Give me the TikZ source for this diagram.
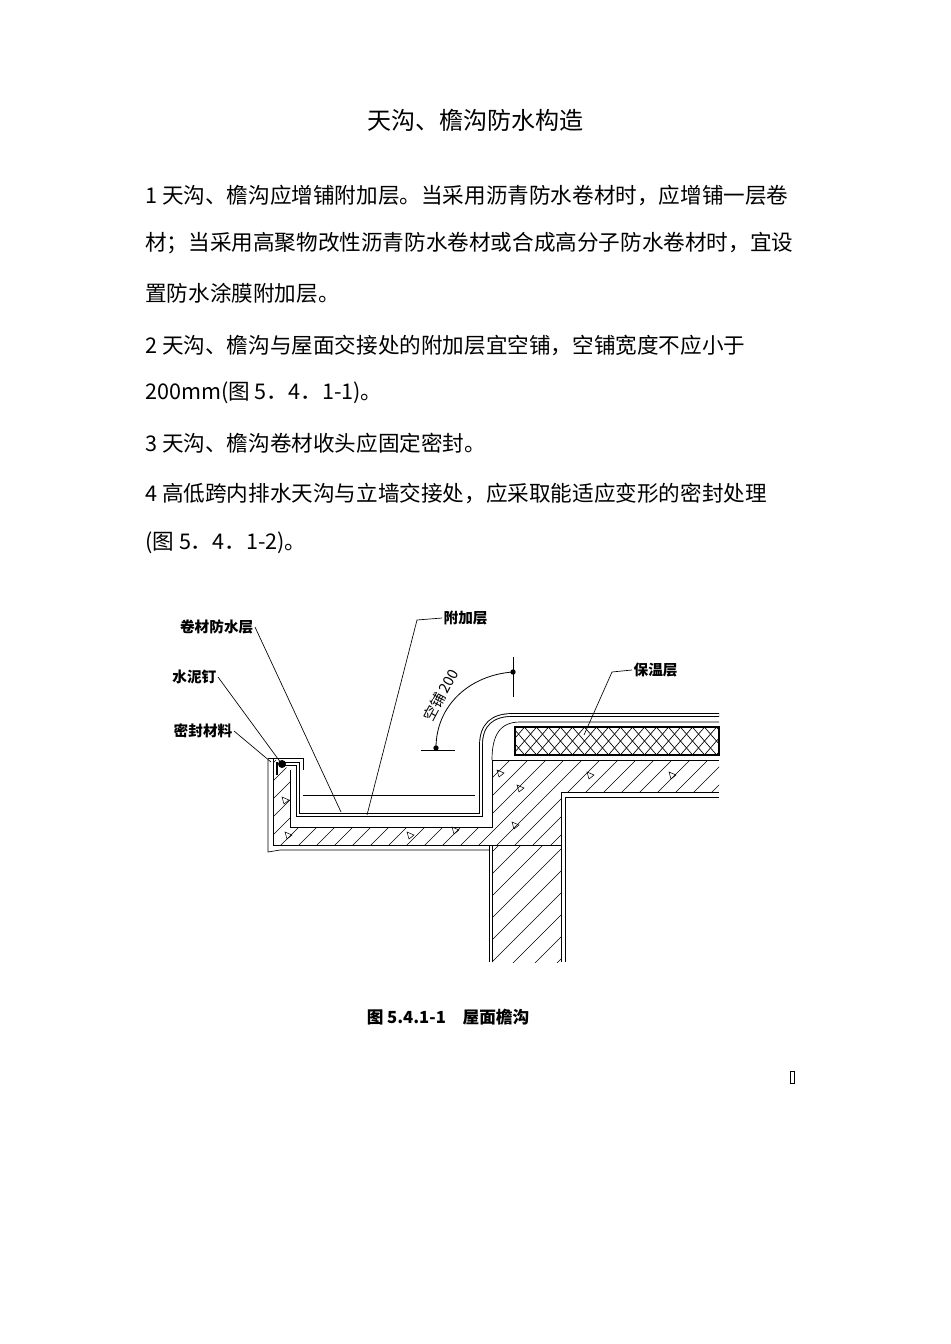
\documentclass[tikz,border=0pt]{standalone}
\usepackage{fontspec}
\setmainfont{Liberation Serif}
\newfontfamily\cjk{Noto Sans CJK SC}
\usetikzlibrary{positioning}
\tikzset{
  body/.style={anchor=west,font=\cjk\fontsize{16.2}{16}\selectfont,inner sep=0pt},
  lbl/.style={font=\cjk\bfseries\fontsize{11}{11}\selectfont,inner sep=1pt},
  leader/.style={line width=0.5pt},
  hatch/.style={line width=0.45pt},
  memb/.style={double distance=1.4pt,line width=0.7pt}
}
\begin{document}
\begin{tikzpicture}[x=0.75pt,y=-0.75pt]
\useasboundingbox (0,0) rectangle (950,1344);

% Title and text
\node[font=\cjk\fontsize{18}{18}\selectfont] (title) at (475,120) {天沟、檐沟防水构造};
\node[body] (l1) at (145,195) {1\ 天沟、檐沟应增铺附加层。当采用沥青防水卷材时，应增铺一层卷};
\node[body] (l2) at (145,243) {材；当采用高聚物改性沥青防水卷材或合成高分子防水卷材时，宜设};
\node[body] (l3) at (145,293) {置防水涂膜附加层。};
\node[body] (l4) at (145,345) {2\ 天沟、檐沟与屋面交接处的附加层宜空铺，空铺宽度不应小于};
\node[body] (l5) at (145,393) {200mm(图\ 5．4．1-1)。};
\node[body] (l6) at (145,443) {3\ 天沟、檐沟卷材收头应固定密封。};
\node[body] (l7) at (145,493) {4\ 高低跨内排水天沟与立墙交接处，应采取能适应变形的密封处理};
\node[body] (l8) at (145,543) {(图\ 5．4．1-2)。};

% Concrete gutter and roof slab
\begin{scope}
\clip (273,758) -- (273,845) -- (561,845) -- (561,792) -- (719,792) -- (719,760)
  -- (492,760) -- (492,827) -- (290,827) -- (290,770) -- cycle;
\foreach \i in {100,118,...,800} \draw[hatch] (\i,900) -- (\i+250,650);
\end{scope}
\draw[line width=0.7pt] (273,758) -- (273,845) -- (489,845);
\draw[line width=0.7pt] (561,845) -- (561,792) -- (719,792);
\draw[line width=0.7pt] (719,760) -- (492,760) -- (492,827) -- (290,827) -- (290,770);
\draw[line width=0.5pt] (268,760) -- (268,852) -- (280,850) -- (489,850);
\foreach \p in {(285,800),(288,835),(410,835),(455,830),(520,788),(515,825),(590,775),(672,775),(500,773)}
  \draw[line width=0.4pt] \p ++(-3,-3) -- ++(7,3) -- ++(-5,4) -- cycle;

% Wall
\begin{scope}
\clip (492,845) rectangle (561,962);
\foreach \i in {300,322,...,700} \draw[hatch] (\i,1000) -- (\i+250,750);
\end{scope}
\draw[line width=0.7pt] (489,845) -- (489,962);
\draw[line width=0.5pt] (492,845) -- (492,962);
\draw[line width=0.7pt] (565,797) -- (565,962);
\draw[line width=0.5pt] (561,845) -- (561,962);
\draw[line width=0.5pt] (565,797) -- (719,797);
\draw[line width=0.6pt] (489,845) -- (561,845);

% Insulation
\begin{scope}
\clip (515,727) rectangle (719,755);
\foreach \i in {400,412,...,760} {
  \draw[line width=0.5pt] (\i,760) -- (\i+33,722);
  \draw[line width=0.5pt] (\i,722) -- (\i+33,760);
}
\end{scope}
\draw[line width=0.8pt] (515,727) rectangle (719,755);

% Screed and membrane
\draw[line width=0.5pt] (719,722) -- (520,722) .. controls (500,722) and (492,735) .. (492,760);
\draw[line width=0.5pt] (303,795) -- (475,795);
\draw[memb] (283,764) -- (298,764) -- (298,815) -- (481,815) -- (481,745)
  .. controls (481,725) and (492,715) .. (512,715) -- (719,715);
\draw[line width=0.6pt] (268,758) -- (303,758) -- (303,770);
\fill (282,764) circle (3pt);
\draw[line width=1pt] (277,762) -- (277,775);

% Dimension
\coordinate (d1) at (513,672);
\coordinate (d2) at (436,748);
\draw[line width=0.5pt] (513,657) -- (513,697);
\draw[line width=0.5pt] (421,750) -- (455,750);
\draw[line width=0.6pt] (d1) .. controls (470,675) and (436,705) .. (d2);
\fill (d1) circle (2pt) (d2) circle (2pt);
\node[font=\cjk\fontsize{11}{11}\selectfont,rotate=62,inner sep=0pt] (dim) at (441,695) {空铺\,200};

% Labels and leaders
\node[lbl,anchor=east] (juan) at (255,627) {卷材防水层};
\node[lbl,anchor=west] (fujia) at (442,618) {附加层};
\node[lbl,anchor=west] (baowen) at (632,670) {保温层};
\node[lbl,anchor=east] (ding) at (218,677) {水泥钉};
\node[lbl,anchor=east] (mifeng) at (234,731) {密封材料};
\coordinate (t1) at (341,812);
\coordinate (t2) at (367,815);
\coordinate (t3) at (584,735);
\coordinate (t4) at (281,763);
\coordinate (t5) at (271,762);
\draw[leader] (juan.east) -- (t1);
\draw[leader] (fujia.west) -- (417,620) -- (t2);
\draw[leader] (baowen.west) -- (612,672) -- (t3);
\draw[leader] (ding.east) -- (t4);
\draw[leader] (mifeng.east) -- (t5);

% Caption
\node[font=\cjk\bfseries\fontsize{12.5}{12.5}\selectfont] (cap) at (448,1017) {图 5.4.1-1\quad 屋面檐沟};
\draw[line width=0.5pt] (790,1071) rectangle (794,1083);
\end{tikzpicture}
\end{document}
